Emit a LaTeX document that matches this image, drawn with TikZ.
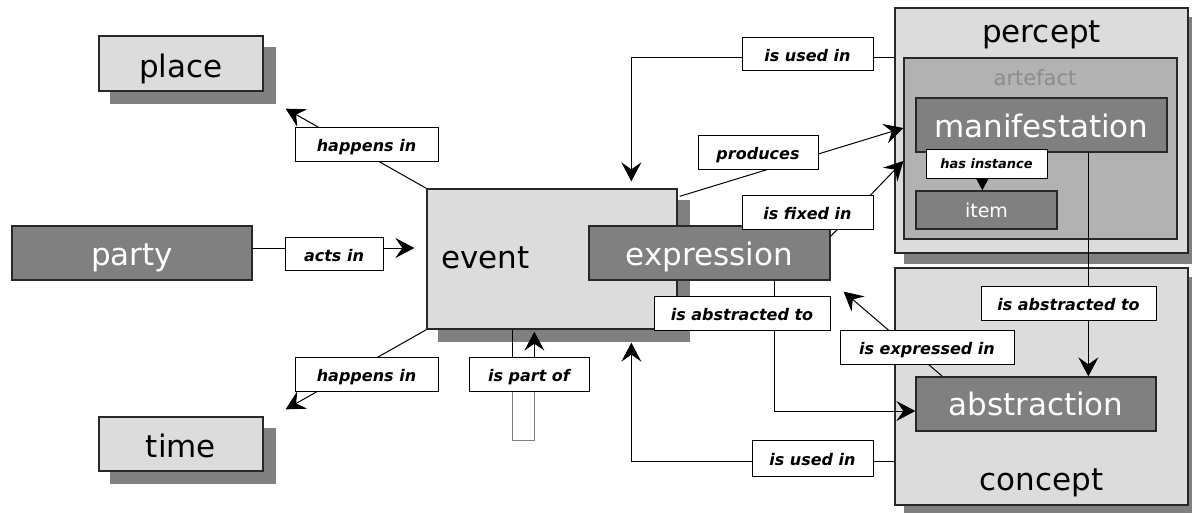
\documentclass[tikz,border=0pt]{standalone}
\usepackage{fontspec}
\setmainfont{DejaVu Sans}
\usetikzlibrary{arrows.meta,calc,backgrounds}

\definecolor{lightfill}{RGB}{220,220,220}
\definecolor{darkfill}{RGB}{128,128,128}
\definecolor{midfill}{RGB}{178,178,178}
\definecolor{shadowgray}{RGB}{128,128,128}
\definecolor{boxline}{RGB}{40,40,40}
\definecolor{fadedtext}{RGB}{140,140,140}

\tikzset{every picture/.style={line width=1pt}}
\tikzset{
	lightbox/.style={draw=boxline, line width=1.3pt, fill=lightfill, inner sep=0pt, text height=24pt, text depth=0pt, font=\fontsize{31}{37}\selectfont},
	darkbox/.style={draw=boxline, line width=1.3pt, fill=darkfill, text=white, inner sep=0pt, text height=24pt, text depth=0pt, font=\fontsize{31}{37}\selectfont},
	relbox/.style={draw=black, line width=1pt, fill=white, inner sep=0pt, text height=15pt, text depth=0pt, font=\fontsize{16}{19}\selectfont\bfseries\itshape},
	relline/.style={draw=black, line width=1pt, -{Stealth[length=19pt,width=20pt,inset=7pt]}}}

\begin{document}
\begin{tikzpicture}[x=1pt,y=1pt,yscale=-1]
	\useasboundingbox (0,0) rectangle (1192,512);

	% percept with artefact inside
	\node [lightbox, minimum width=293pt, minimum height=245pt] (percept) at (1041.5,130.5) {};
	\node [anchor=base, font=\fontsize{31}{37}\selectfont] (perceptname) at (1041.5,42) {percept};
	\node [draw=boxline, line width=1.3pt, fill=midfill, minimum width=273pt, minimum height=181pt] (artefact) at (1040.5,148.5) {};
	\node [anchor=base, text=fadedtext, font=\fontsize{21}{25}\selectfont] (artefactname) at (1035,85) {artefact};
	\node [darkbox, minimum width=251pt, minimum height=54pt] (manifestation) at (1041.5,125) {manifestation};
	\node [darkbox, minimum width=141pt, minimum height=38pt, text height=14pt, font=\fontsize{19}{23}\selectfont] (item) at (986.5,210) {item};

	% concept
	\node [lightbox, minimum width=293pt, minimum height=237pt] (concept) at (1041.5,386.5) {};
	\node [anchor=base, font=\fontsize{31}{37}\selectfont] (conceptname) at (1041.5,490) {concept};
	\node [darkbox, minimum width=240pt, minimum height=54pt, text height=22pt] (abstraction) at (1036,404) {abstraction};

	% event and expression
	\node [lightbox, minimum width=250pt, minimum height=140pt, text width=222pt, text height=18pt, align=left] (event) at (552,259) {event};
	\node [darkbox, minimum width=241pt, minimum height=54pt] (expression) at (709.5,253) {expression};

	% place, time, party
	\node [lightbox, minimum width=164pt, minimum height=55pt, text height=27pt] (place) at (181,63.5) {place};
	\node [lightbox, minimum width=164pt, minimum height=54pt, text height=27pt] (time) at (181,444) {time};
	\node [darkbox, minimum width=240pt, minimum height=54pt] (party) at (132,253) {party};

	% shadows
	\begin{scope}[on background layer]
		\foreach \n/\d in {place/12,time/12,event/12,percept/10,concept/10}
			\fill [shadowgray] ($(\n.south west)+(\d,\d)$) rectangle ($(\n.north east)+(\d,\d)$);
	\end{scope}

	% connectors
	\draw [relline] (event.north west) -- ($(place.south east)+(22,17)$);
	\draw [relline] (event.south west) -- ($(time.north east)+(22,-7)$);
	\draw [relline] ($(party.east)+(0,-5)$) coordinate (pa) -- ($(event.west |- pa)+(-12,0)$);
	\draw [relline] ($(event.north east)+(2,8)$) -- ($(artefact.west)+(0,-20.5)$);
	\draw [relline] ($(expression.north east)+(0,11)$) -- ($(artefact.west)+(0,12.5)$);
	\draw [relline] ($(percept.north west)+(0,50)$) -| ($(event.north west)+(205,-7)$);
	\draw [relline] ($(concept.south west)+(0,-44)$) -| ($(event.south west)+(205,13)$);
	\draw [relline] ($(expression.south west)+(186,0)$) |- ($(abstraction.west)+(0,7)$);
	\draw [relline] ($(abstraction.north west)+(27,0)$) -- ($(expression.south east)+(13,11)$);
	\draw [relline] ($(manifestation.south west)+(173,0)$) coordinate (ms) -- (ms |- abstraction.north);
	\draw [relline] ($(manifestation.south west)+(67,0)$) coordinate (mi) -- (mi |- item.north);
	% is part of loop
	\draw [black!50] ($(event.south west)+(86,62)$) coordinate (la) -- ($(la)+(0,49)$) -- ($(la)+(22,49)$) -- ($(la)+(22,0)$);
	\draw ($(event.south west)+(86,0)$) -- (la);
	\draw [relline] ($(la)+(22,0)$) -- ($(event.south west)+(108,2)$);

	% relation labels
	\node [relbox, minimum width=143pt, minimum height=34pt] (happensplace) at (366.5,144) {happens in};
	\node [relbox, minimum width=98pt, minimum height=33pt] (actsin) at (334,254) {acts in};
	\node [relbox, minimum width=143pt, minimum height=34pt] (happenstime) at (366.5,374) {happens in};
	\node [relbox, minimum width=120pt, minimum height=34pt] (partof) at (529,374) {is part of};
	\node [relbox, minimum width=176pt, minimum height=34pt] (abstractedexpr) at (742,313) {is abstracted to};
	\node [relbox, minimum width=121pt, minimum height=36pt] (usedconcept) at (812.5,458) {is used in};
	\node [relbox, minimum width=174pt, minimum height=34pt] (expressedin) at (927,347) {is expressed in};
	\node [relbox, minimum width=175pt, minimum height=34pt] (abstractedmanif) at (1068.5,303) {is abstracted to};
	\node [relbox, minimum width=131pt, minimum height=33pt] (usedpercept) at (807.5,53.5) {is used in};
	\node [relbox, minimum width=120pt, minimum height=34pt] (produces) at (758,152) {produces};
	\node [relbox, minimum width=131pt, minimum height=34pt] (fixedin) at (807.5,212) {is fixed in};
	\node [relbox, minimum width=121pt, minimum height=29pt, text height=9pt, font=\fontsize{13}{16}\selectfont\bfseries\itshape] (hasinstance) at (986.5,163.5) {has instance};
\end{tikzpicture}
\end{document}
